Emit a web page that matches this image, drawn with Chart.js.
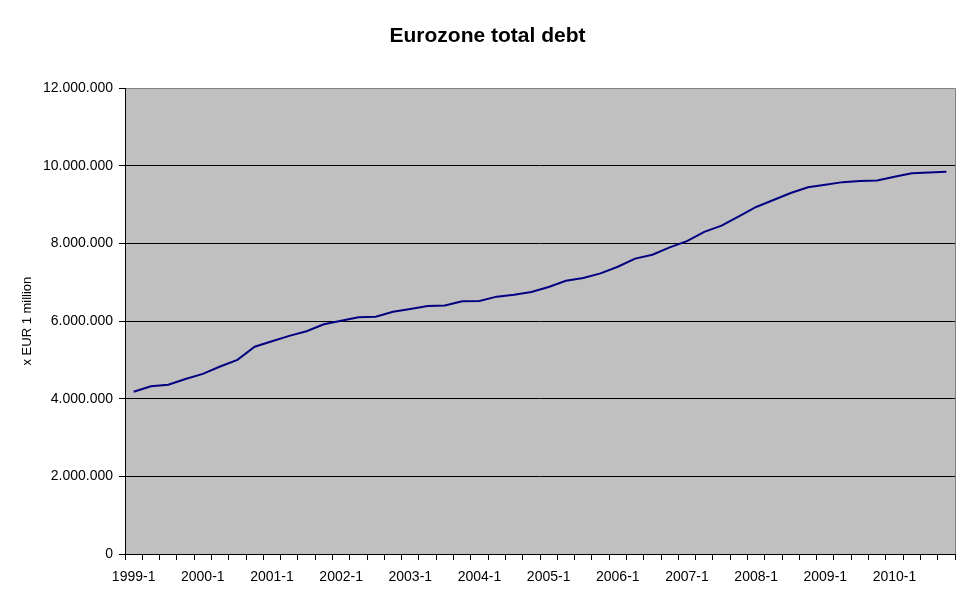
<!DOCTYPE html>
<html lang="en">
<head>
  <meta charset="UTF-8" />
  <title>Eurozone total debt</title>
  <script src="https://cdn.jsdelivr.net/npm/chart.js"></script>
  <style>
    body { margin: 0; background: #fff; }
  </style>
</head>
<body>
  <canvas id="debtChart" width="970" height="604"></canvas>

  <script>
    // categories: quarters 1999-1 .. 2010-4
    const years = [1999, 2000, 2001, 2002, 2003, 2004, 2005, 2006, 2007, 2008, 2009, 2010];
    const quarters = [1, 2, 3, 4];

    // total debt, x EUR 1 million
    const debtValues = [
      4180000, 4320000, 4360000, 4510000,
      4640000, 4830000, 5000000, 5340000,
      5480000, 5620000, 5740000, 5920000,
      6010000, 6100000, 6110000, 6240000,
      6310000, 6390000, 6400000, 6510000,
      6520000, 6630000, 6680000, 6750000,
      6880000, 7040000, 7110000, 7230000,
      7400000, 7610000, 7710000, 7900000,
      8060000, 8300000, 8460000, 8700000,
      8940000, 9120000, 9300000, 9450000,
      9510000, 9580000, 9610000, 9620000,
      9720000, 9810000, 9830000, 9850000
    ];

    const yTicks = [0, 2000000, 4000000, 6000000, 8000000, 10000000, 12000000];

    const labels = [];
    years.forEach(y => quarters.forEach(q => labels.push(y + '-' + q)));

    function formatDots(n) {
      return String(n).replace(/\B(?=(\d{3})+(?!\d))/g, '.');
    }

    // grey plot area + grey right border, like the old Excel look
    const plotBackground = {
      id: 'plotBackground',
      beforeDraw(chart) {
        const { ctx, chartArea: a } = chart;
        ctx.save();
        ctx.fillStyle = '#C0C0C0';
        ctx.fillRect(a.left, a.top, a.right - a.left, a.bottom - a.top);
        ctx.strokeStyle = '#808080';
        ctx.lineWidth = 1;
        ctx.beginPath();
        ctx.moveTo(Math.round(a.right) + 0.5, a.top);
        ctx.lineTo(Math.round(a.right) + 0.5, a.bottom);
        ctx.stroke();
        ctx.restore();
      }
    };

    const font = 'Arial, "Liberation Sans", sans-serif';

    new Chart(document.getElementById('debtChart').getContext('2d'), {
      type: 'line',
      data: {
        labels: labels,
        datasets: [{
          label: 'Eurozone total debt',
          data: debtValues,
          borderColor: '#000080',
          borderWidth: 2,
          pointRadius: 0,
          tension: 0,
          fill: false
        }]
      },
      options: {
        responsive: false,
        animation: false,
        layout: { padding: { left: 20, right: 15, top: 0, bottom: 0 } },
        plugins: {
          legend: { display: false },
          tooltip: { enabled: false },
          title: {
            display: true,
            text: 'Eurozone total debt',
            color: '#000',
            font: { family: font, size: 21, weight: 'bold' },
            padding: { top: 24, bottom: 39 }
          }
        },
        scales: {
          x: {
            type: 'category',
            offset: true,
            grid: {
              offset: true,
              drawOnChartArea: false,
              drawTicks: true,
              tickLength: 6,
              tickColor: '#000'
            },
            border: { display: true, color: '#000', width: 1 },
            ticks: {
              autoSkip: false,
              maxRotation: 0,
              minRotation: 0,
              padding: 9,
              color: '#000',
              font: { family: font, size: 14 },
              callback: function (val, i) {
                return i % 4 === 0 ? labels[i] : '';
              }
            },
            afterFit: function (scale) { scale.height = 50; }
          },
          y: {
            min: 0,
            max: 12000000,
            afterBuildTicks: function (scale) {
              scale.ticks = yTicks.map(v => ({ value: v }));
            },
            grid: {
              color: ctx => (ctx.tick && ctx.tick.value === 12000000 ? '#808080' : '#000'),
              tickColor: '#000',
              tickLength: 6,
              lineWidth: 1
            },
            border: { display: true, color: '#000', width: 1 },
            ticks: {
              padding: 6,
              color: '#000',
              font: { family: font, size: 14 },
              callback: v => formatDots(v)
            },
            title: {
              display: true,
              text: 'x EUR 1 million',
              color: '#000',
              font: { family: font, size: 13 },
              padding: 0
            },
            afterFit: function (scale) { scale.width = 105; }
          }
        }
      },
      plugins: [plotBackground]
    });
  </script>
</body>
</html>
